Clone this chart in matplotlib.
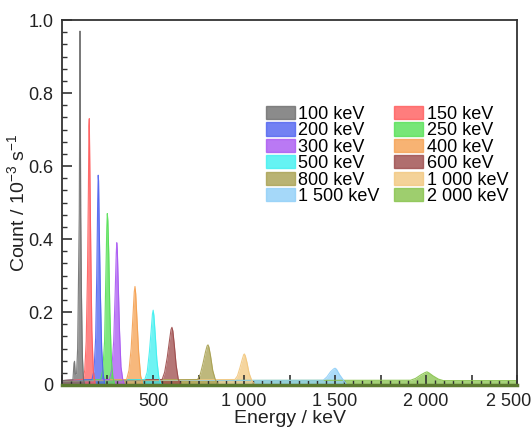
import matplotlib
matplotlib.use('Agg')
import matplotlib.pyplot as plt
import matplotlib.transforms as mtransforms
from matplotlib.ticker import MultipleLocator, FuncFormatter
from matplotlib.patches import Patch

plt.rcParams['font.family'] = ['Liberation Sans', 'DejaVu Sans']
plt.rcParams['mathtext.fontset'] = 'custom'
plt.rcParams['mathtext.rm'] = 'Liberation Sans'
plt.rcParams['mathtext.it'] = 'Liberation Sans'

# spectra: energy (keV) and count (10^-3 s^-1)
labels = ['100 keV', '150 keV', '200 keV', '250 keV', '300 keV', '400 keV',
          '500 keV', '600 keV', '800 keV', '1 000 keV', '1 500 keV', '2 000 keV']
colors = ['#6e6e6e', '#ff5c5c', '#4f62f0', '#55e055', '#a957f2', '#f5a050',
          '#3ff0f0', '#9c4a4a', '#a8a050', '#f2c77e', '#8fcff8', '#86c24a']

e_100 = [0, 60, 66, 69, 73, 80, 86, 91, 95, 97.5, 99, 100.5, 103, 107, 112, 118, 126]
c_100 = [0.012, 0.014, 0.06, 0.065, 0.03, 0.03, 0.1, 0.3, 0.47, 0.79, 0.97, 0.79, 0.47, 0.25, 0.08, 0.015, 0]
e_150 = [0, 115, 125, 133, 140, 145, 148, 150, 153, 158, 164, 172, 183]
c_150 = [0.012, 0.015, 0.04, 0.12, 0.3, 0.53, 0.71, 0.73, 0.6, 0.38, 0.15, 0.04, 0]
e_200 = [0, 165, 176, 185, 191, 196, 199, 201, 205, 211, 218, 226, 236]
c_200 = [0.012, 0.015, 0.04, 0.13, 0.3, 0.5, 0.575, 0.56, 0.42, 0.25, 0.1, 0.03, 0]
e_250 = [0, 212, 224, 234, 241, 246, 249, 252, 257, 263, 271, 280, 290]
c_250 = [0.012, 0.015, 0.04, 0.12, 0.3, 0.43, 0.47, 0.45, 0.36, 0.2, 0.07, 0.02, 0]
e_300 = [0, 260, 273, 284, 292, 298, 301, 304, 309, 316, 324, 334, 345]
c_300 = [0.012, 0.015, 0.04, 0.12, 0.25, 0.36, 0.39, 0.37, 0.28, 0.15, 0.05, 0.015, 0]
e_400 = [0, 355, 368, 380, 390, 397, 401, 405, 412, 421, 432, 445]
c_400 = [0.012, 0.015, 0.04, 0.1, 0.19, 0.255, 0.27, 0.25, 0.18, 0.09, 0.025, 0]
e_500 = [0, 455, 468, 480, 490, 497, 501, 505, 512, 521, 532, 546]
c_500 = [0.012, 0.015, 0.035, 0.09, 0.15, 0.195, 0.205, 0.19, 0.14, 0.07, 0.02, 0]
e_600 = [0, 550, 564, 578, 590, 599, 604, 609, 617, 627, 639, 655]
c_600 = [0.012, 0.015, 0.035, 0.075, 0.12, 0.152, 0.158, 0.148, 0.11, 0.055, 0.015, 0]
e_800 = [0, 745, 760, 775, 788, 797, 802, 807, 816, 828, 842, 858]
c_800 = [0.012, 0.015, 0.03, 0.06, 0.09, 0.107, 0.11, 0.104, 0.08, 0.04, 0.015, 0]
e_1000 = [0, 950, 964, 978, 990, 998, 1002, 1007, 1016, 1028, 1042, 1060]
c_1000 = [0.012, 0.015, 0.025, 0.048, 0.07, 0.083, 0.085, 0.08, 0.062, 0.032, 0.013, 0]
e_1500 = [0, 1435, 1455, 1475, 1492, 1500, 1508, 1525, 1545, 1565]
c_1500 = [0.012, 0.013, 0.022, 0.036, 0.044, 0.046, 0.043, 0.028, 0.014, 0]
e_2000 = [0, 1915, 1942, 1972, 1994, 2005, 2016, 2038, 2068, 2095, 2500]
c_2000 = [0.012, 0.013, 0.018, 0.028, 0.034, 0.036, 0.033, 0.025, 0.016, 0.012, 0.012]

energies = [e_100, e_150, e_200, e_250, e_300, e_400, e_500, e_600, e_800, e_1000, e_1500, e_2000]
counts = [c_100, c_150, c_200, c_250, c_300, c_400, c_500, c_600, c_800, c_1000, c_1500, c_2000]

fig = plt.figure(figsize=(5.32, 4.29), dpi=100)
ax = fig.add_axes([0.1165, 0.1026, 0.8555, 0.8504])

# draw high energies first so the tall narrow peaks sit on top
for e, c, col in reversed(list(zip(energies, counts, colors))):
    ax.fill_between(e, 0, c, color=col, alpha=0.75, lw=0)
    ax.plot(e, c, color=col, lw=0.8, alpha=0.9)

ax.set_xlim(0, 2500)
ax.set_ylim(0, 1.0)

ax.xaxis.set_major_locator(MultipleLocator(250))
ax.xaxis.set_minor_locator(MultipleLocator(50))
ax.xaxis.set_major_formatter(FuncFormatter(
    lambda v, p: '' if (v == 0 or v % 500) else f'{int(v):,}'.replace(',', ' ')))
ax.yaxis.set_major_locator(MultipleLocator(0.2))
ax.yaxis.set_minor_locator(MultipleLocator(0.2 / 6))
ax.yaxis.set_major_formatter(FuncFormatter(lambda v, p: '0' if v == 0 else f'{v:.1f}'))

ax.tick_params(which='both', direction='in', top=False, right=False, labelsize=13, colors='#333333')
ax.tick_params(which='major', length=7, width=1.2)
ax.tick_params(which='minor', length=3.5, width=1.0)
ax.tick_params(axis='x', pad=6)
ax.tick_params(axis='y', pad=6)
for t in ax.get_xticklabels() + ax.get_yticklabels():
    t.set_color('#222222')

# last x label sits a little left of its tick, as in the original
fig.canvas.draw()
shift = mtransforms.ScaledTranslation(-8 / 100, 0, fig.dpi_scale_trans)
for t in ax.get_xticklabels():
    if t.get_text() == '2 500':
        t.set_transform(t.get_transform() + shift)

for s in ['top', 'right', 'left']:
    ax.spines[s].set_color('#333333')
    ax.spines[s].set_linewidth(1.3)
ax.spines['bottom'].set_color('#5c7a30')
ax.spines['bottom'].set_linewidth(2.5)

ax.set_xlabel('Energy / keV', fontsize=14, color='#222222', labelpad=0)
ax.set_ylabel('Count / 10$^{-3}$ s$^{-1}$', fontsize=14, color='#222222', labelpad=0)

order = [0, 2, 4, 6, 8, 10, 1, 3, 5, 7, 9, 11]
handles = [Patch(facecolor=colors[i], edgecolor=colors[i], alpha=0.8) for i in order]
ax.legend(handles, [labels[i] for i in order], ncol=2, loc='upper left',
          bbox_to_anchor=(0.42, 0.8), frameon=False, fontsize=13,
          labelspacing=-0.03, handlelength=1.6, handleheight=0.75,
          handletextpad=0.2, columnspacing=0.8, borderpad=0.2)

fig.savefig('out.png', dpi=100)
